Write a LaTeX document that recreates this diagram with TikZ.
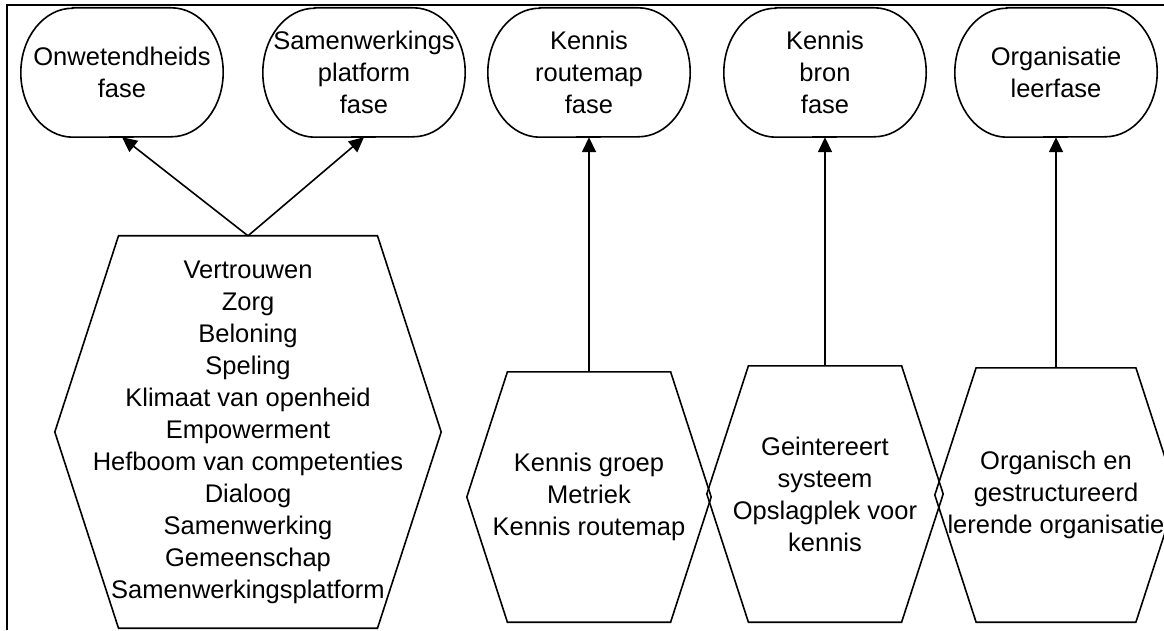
\documentclass[tikz,border=0pt]{standalone}
\usepackage{fontspec}
\setmainfont{Liberation Sans}
\usetikzlibrary{arrows.meta}

% outline of a phase node: flat top and bottom, half-ellipse sides
\newcommand\phaseline[1]{%
  \draw[outline] ([xshift=52pt]#1.north west) -- ([xshift=-52pt]#1.north east)
    arc[start angle=90, end angle=-90, x radius=52pt, y radius=64.5pt]
    -- ([xshift=52pt]#1.south west)
    arc[start angle=270, end angle=90, x radius=52pt, y radius=64.5pt] -- cycle;}
% outline of a hexagon node, #2 = depth of the side points
\newcommand\hexline[2]{%
  \draw[outline] (#1.west) -- ([xshift=#2]#1.north west) -- ([xshift=-#2]#1.north east)
    -- (#1.east) -- ([xshift=-#2]#1.south east) -- ([xshift=#2]#1.south west) -- cycle;}

\begin{document}
\begin{tikzpicture}[
  x=1pt, y=1pt,
  phase/.style={minimum width=202pt, minimum height=129pt, inner sep=2pt, align=center, font=\fontsize{25.5}{32}\selectfont},
  factor/.style={inner sep=2pt, align=center, font=\fontsize{25.5}{32}\selectfont},
  outline/.style={line width=1.6pt, line join=miter},
  arrow/.style={-{Triangle[length=15pt, width=14pt]}, line width=1.6pt}
]
\useasboundingbox (0,0) rectangle (1164,630);
\draw[outline] (7,0) -- (7,625) -- (1164,625);

\node[phase] (onw) at (122,557.5) {Onwetendheids\\fase};
\node[phase] (sam) at (364,557.5) {Samenwerkings\\platform\\fase};
\node[phase] (krm) at (589,557.5) {Kennis\\routemap\\fase};
\node[phase] (kbr) at (825,557.5) {Kennis\\bron\\fase};
\node[phase] (org) at (1056,557.5) {Organisatie\\leerfase};

\node[factor, minimum width=386pt, minimum height=392pt] (val) at (248,198) {Vertrouwen\\Zorg\\Beloning\\Speling\\Klimaat van openheid\\Empowerment\\Hefboom van competenties\\Dialoog\\Samenwerking\\Gemeenschap\\Samenwerkingsplatform};
\node[factor, minimum width=244pt, minimum height=250pt] (kgr) at (589,133) {Kennis groep\\Metriek\\Kennis routemap};
\node[factor, minimum width=236pt, minimum height=256pt] (gis) at (825,136) {Geintereert\\systeem\\Opslagplek voor\\kennis};
\node[factor, minimum width=242pt, minimum height=254pt] (ogs) at (1056,135) {Organisch en\\gestructureerd\\lerende organisatie};

\phaseline{onw}
\phaseline{sam}
\phaseline{krm}
\phaseline{kbr}
\phaseline{org}
\hexline{val}{63.7pt}
\hexline{kgr}{40.6pt}
\hexline{gis}{41.6pt}
\hexline{ogs}{41.3pt}

\draw[arrow] (val.north) -- (onw.south);
\draw[arrow] (val.north) -- (sam.south);
\draw[arrow] (kgr.north) -- (krm.south);
\draw[arrow] (gis.north) -- (kbr.south);
\draw[arrow] (ogs.north) -- (org.south);
\end{tikzpicture}
\end{document}
